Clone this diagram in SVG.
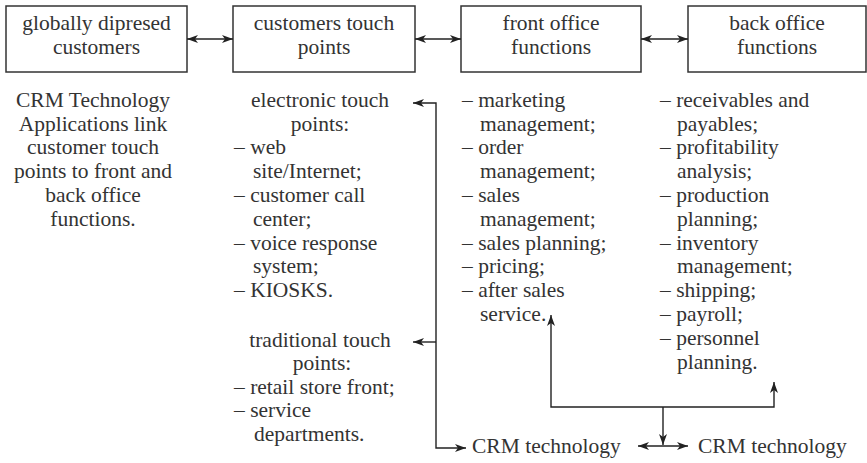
<svg xmlns="http://www.w3.org/2000/svg" width="867" height="463" viewBox="0 0 867 463">
<style>
text{font-family:"Liberation Serif","DejaVu Serif",serif;font-size:21.5px;fill:#333}
.c{text-anchor:middle}
.box{fill:#fff;stroke:#333;stroke-width:1.5}
.ln{fill:none;stroke:#222;stroke-width:1.4}
</style>
<defs>
<marker id="ah" markerUnits="userSpaceOnUse" markerWidth="12" markerHeight="10" refX="11" refY="4.5" orient="auto-start-reverse">
<path d="M0,0.5 L11,4.5 L0,8.5 L3,4.5 z" fill="#222"/>
</marker>
</defs>
<rect width="867" height="463" fill="#fff"/>
<g id="n1"><rect class="box" x="6" y="6" width="181" height="66"/><text class="c" x="96.5" y="30">globally dipresed</text><text class="c" x="96.5" y="54">customers</text></g>
<g id="n2"><rect class="box" x="233" y="6" width="182" height="66"/><text class="c" x="324" y="30">customers touch</text><text class="c" x="324" y="54">points</text></g>
<g id="n3"><rect class="box" x="461" y="6" width="180" height="66"/><text class="c" x="551" y="30">front office</text><text class="c" x="551" y="54">functions</text></g>
<g id="n4"><rect class="box" x="688" y="6" width="178" height="66"/><text class="c" x="777" y="30">back office</text><text class="c" x="777" y="54">functions</text></g>
<g id="note">
<text class="c" x="93" y="106.7">CRM Technology</text>
<text class="c" x="93" y="130.5">Applications link</text>
<text class="c" x="93" y="154.3">customer touch</text>
<text class="c" x="93" y="178.1">points to front and</text>
<text class="c" x="93" y="201.9">back office</text>
<text class="c" x="93" y="225.7">functions.</text>
</g>
<g id="electronic">
<text class="c" x="320" y="106.7">electronic touch</text>
<text class="c" x="320" y="130.5">points:</text>
<text x="234" y="154.3">– web</text>
<text x="253" y="178.1">site/Internet;</text>
<text x="234" y="201.9">– customer call</text>
<text x="253" y="225.7">center;</text>
<text x="234" y="249.5">– voice response</text>
<text x="253" y="273.3">system;</text>
<text x="234" y="297.1">– KIOSKS.</text>
</g>
<g id="traditional">
<text class="c" x="320" y="346.6">traditional touch</text>
<text class="c" x="322" y="370.2">points:</text>
<text x="234" y="393.8">– retail store front;</text>
<text x="234" y="417.4">– service</text>
<text x="254" y="441">departments.</text>
</g>
<g id="front">
<text x="462" y="106.7">– marketing</text>
<text x="480" y="130.5">management;</text>
<text x="462" y="154.3">– order</text>
<text x="480" y="178.1">management;</text>
<text x="462" y="201.9">– sales</text>
<text x="480" y="225.7">management;</text>
<text x="462" y="249.5">– sales planning;</text>
<text x="462" y="273.3">– pricing;</text>
<text x="462" y="297.1">– after sales</text>
<text x="480" y="320.9">service.</text>
</g>
<g id="back">
<text x="660" y="106.7">– receivables and</text>
<text x="677" y="130.5">payables;</text>
<text x="660" y="154.3">– profitability</text>
<text x="677" y="178.1">analysis;</text>
<text x="660" y="201.9">– production</text>
<text x="677" y="225.7">planning;</text>
<text x="660" y="249.5">– inventory</text>
<text x="677" y="273.3">management;</text>
<text x="660" y="297.1">– shipping;</text>
<text x="660" y="320.9">– payroll;</text>
<text x="660" y="344.7">– personnel</text>
<text x="677" y="368.5">planning.</text>
</g>
<g id="crm1"><text x="472" y="453">CRM technology</text></g>
<g id="crm2"><text x="698" y="453">CRM technology</text></g>
<g id="connectors">
<path class="ln" d="M187,39 H233" marker-start="url(#ah)" marker-end="url(#ah)"/>
<path class="ln" d="M415,39 H461" marker-start="url(#ah)" marker-end="url(#ah)"/>
<path class="ln" d="M641,39 H688" marker-start="url(#ah)" marker-end="url(#ah)"/>
<path class="ln" d="M413,103 H436 V448 H466" marker-start="url(#ah)" marker-end="url(#ah)"/>
<path class="ln" d="M436,342 H413" marker-end="url(#ah)"/>
<path class="ln" d="M551,315 V407 H774 V382" marker-start="url(#ah)" marker-end="url(#ah)"/>
<path class="ln" d="M663,407 V445" marker-end="url(#ah)"/>
<path class="ln" d="M638,446 H688" marker-start="url(#ah)" marker-end="url(#ah)"/>
</g>
</svg>
